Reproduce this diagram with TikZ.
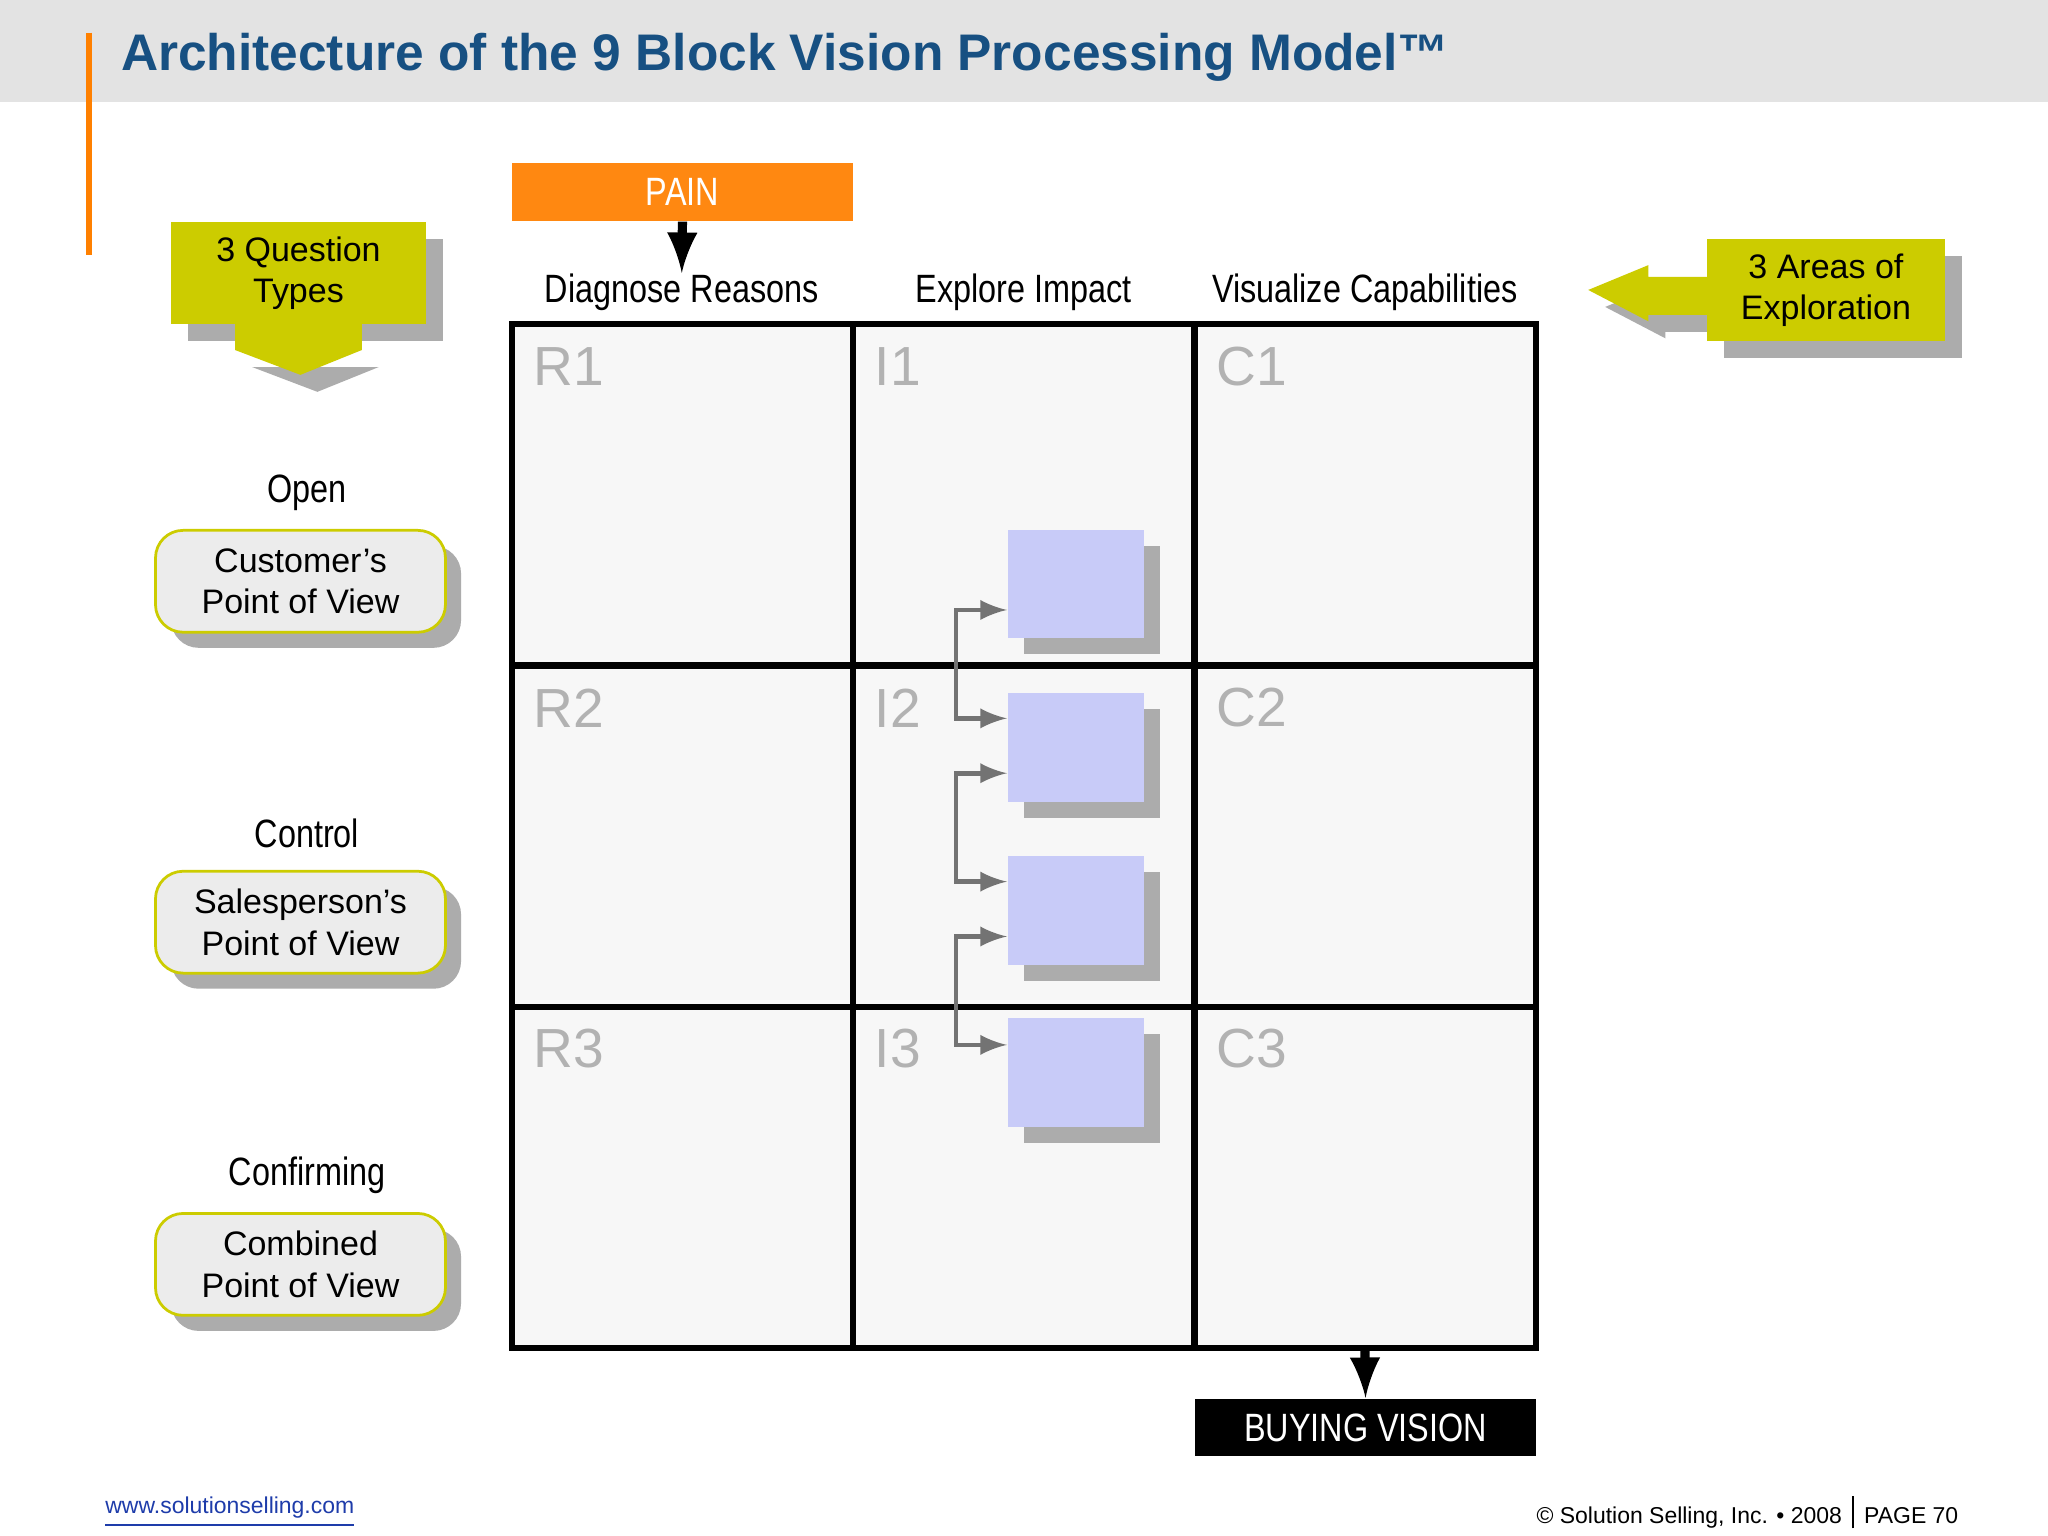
\documentclass[tikz,border=0pt]{standalone}
\usepackage{fontspec}
\setmainfont{Liberation Sans}
\newfontfamily\narrow[FakeStretch=0.82]{Liberation Sans}
\begin{document}
\begin{tikzpicture}[x=0.01cm,y=-0.01cm,
  cell/.style={draw=black,line width=1.2pt,fill=gray!6},
  cl/.style={text=gray!60,font=\fontsize{12}{12}\selectfont,anchor=west,inner sep=0},
  hd/.style={font=\narrow\fontsize{8.6}{10}\selectfont},
  blk/.style={fill={rgb,255:red,200;green,203;blue,248}},
  shd/.style={fill=gray!65},
  yg/.style={fill={rgb,255:red,204;green,204;blue,0}},
  conn/.style={draw=gray!90!black,line width=1pt,-latex},
  bx/.style={font=\fontsize{7.4}{9}\selectfont,align=center}]
\useasboundingbox (0,0) rectangle (1568,1176);
\fill[white] (0,0) rectangle (1568,1176);
\fill[gray!22] (0,0) rectangle (1568,78);
\draw[orange,line width=1.2pt] (68,25) -- (68,195);
\node[anchor=west,inner sep=0,font=\bfseries\fontsize{11.2}{14}\selectfont,text={rgb,255:red,23;green,80;blue,130}] (title) at (92,44) {Architecture of the 9 Block Vision Processing Model™};
% grid
\foreach \c/\x in {0/392,1/653,2/915}{\foreach \r/\y in {0/248,1/510,2/771}{\draw[cell] (\x,\y) rectangle ++(261,261);}}
\foreach \t/\x/\y in {R1/408/281,I1/669/281,C1/931/281,R2/408/542,I2/669/542,C2/931/542,R3/408/803,I3/669/803,C3/931/803}{\node[cl] (n\t) at (\x,\y) {\t};}
% pain
\node[fill={rgb,255:red,255;green,136;blue,17},text=white,minimum width=261*0.01cm,minimum height=44*0.01cm,inner sep=0,font=\narrow\fontsize{8.6}{10}\selectfont] (pain) at (522.5,147) {PAIN};
\node[hd] (h1) at (522,224) {Diagnose Reasons};
\node[hd] (h2) at (784,224) {Explore Impact};
\node[hd] (h3) at (1045,224) {Visualize Capabilities};
\coordinate (pe) at (522,209);
\draw[line width=2pt,-latex] (pain.south) -- (pe);
\node[fill=black,text=white,minimum width=261*0.01cm,minimum height=44*0.01cm,inner sep=0,font=\narrow\fontsize{8.6}{10}\selectfont] (bv) at (1045.5,1093) {BUYING VISION};
\coordinate (gb) at (1045,1032);
\draw[line width=2pt,-latex] (gb) -- (bv.north);
% blocks
\foreach \i/\y in {1/405,2/530,3/655,4/779}{
  \fill[shd] (784,\y+13) rectangle ++(104,83);
  \node[blk,minimum width=104*0.01cm,minimum height=83*0.01cm,inner sep=0,anchor=north west] (b\i) at (771,\y) {};}
\coordinate (j1) at (732,467);\coordinate (j2) at (732,550);
\coordinate (j3) at (732,592);\coordinate (j4) at (732,675);
\coordinate (j5) at (732,717);\coordinate (j6) at (732,800);
\draw[conn] (j2) -- (j1) -- (j1 -| b1.west);
\draw[conn] (j1) -- (j2) -- (j2 -| b2.west);
\draw[conn] (j4) -- (j3) -- (j3 -| b2.west);
\draw[conn] (j3) -- (j4) -- (j4 -| b3.west);
\draw[conn] (j6) -- (j5) -- (j5 -| b3.west);
\draw[conn] (j5) -- (j6) -- (j6 -| b4.west);
% 3 question types
\fill[shd] (144,183) rectangle (339,261);
\fill[shd] (193,281) -- (290,281) -- (243,300) -- cycle;
\fill[yg] (180,248) rectangle (277,268);
\fill[yg] (180,268) -- (277,268) -- (230,287) -- cycle;
\node[yg,minimum width=195*0.01cm,minimum height=78*0.01cm,inner sep=0,bx] (qt) at (228.5,209) {3 Question\\Types};
% 3 areas
\fill[shd] (1320,226) -- (1275,226) -- (1275,216) -- (1229,235) -- (1275,259) -- (1275,254) -- (1320,254) -- cycle;
\fill[shd] (1320,196) rectangle (1502,274);
\fill[yg] (1307,212) -- (1262,212) -- (1262,203) -- (1216,222) -- (1262,246) -- (1262,241) -- (1307,241) -- cycle;
\node[yg,minimum width=182*0.01cm,minimum height=78*0.01cm,inner sep=0,bx] (ae) at (1398,222) {3 Areas of\\Exploration};
% left boxes
\foreach \n/\y/\h/\t in {o/405/Open/{Customer’s\\Point of View},c/666/Control/{Salesperson’s\\Point of View},f/928/Confirming/{Combined\\Point of View}}{
  \fill[shd,rounded corners=6pt] (131,\y+13) rectangle ++(222,78);
  \node[fill=gray!15,draw={rgb,255:red,204;green,204;blue,0},line width=0.6pt,rounded corners=6pt,minimum width=222*0.01cm,minimum height=78*0.01cm,inner sep=0,bx,anchor=north west] (L\n) at (118,\y) {\t};
  \node[hd] (H\n) at (235,\y-28) {\h};}
% footer
\node[anchor=west,inner sep=0,font=\fontsize{5}{6}\selectfont,text={rgb,255:red,30;green,60;blue,170}] (url) at (80,1158) {\underline{www.solutionselling.com}};
\node[anchor=east,inner sep=0,font=\fontsize{5}{6}\selectfont] (copy) at (1500,1158) {© Solution Selling, Inc. • 2008 \,\vrule height 6pt depth 1pt\, PAGE 70};
\end{tikzpicture}
\end{document}
